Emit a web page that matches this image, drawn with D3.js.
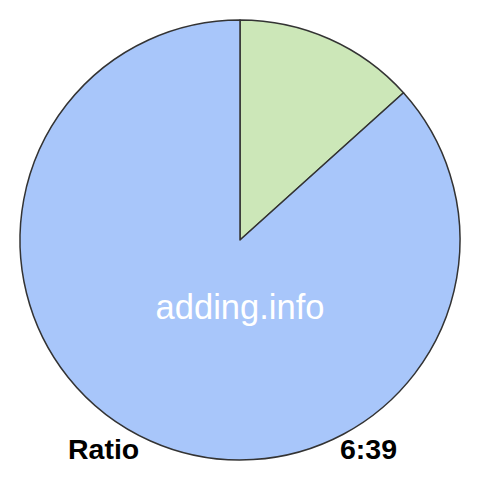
<!DOCTYPE html>
<html>
<head>
<meta charset="utf-8">
<script src="https://cdn.jsdelivr.net/npm/d3@7"></script>
<style>
  body { margin: 0; background: #fff; }
  svg { display: block; }
</style>
</head>
<body>
<svg id="chart"></svg>
<script>
// Ratio 6:39
const labels = ["6", "39"];
const values = [6, 39];
const colors = ["#cce7b8", "#a8c6fa"];

const width = 480, height = 480;
const cx = 240, cy = 240, radius = 220;

const svg = d3.select("#chart")
  .attr("width", width)
  .attr("height", height);

const pie = d3.pie().sort(null).value(d => d);
const arc = d3.arc().innerRadius(0).outerRadius(radius);

const g = svg.append("g")
  .attr("transform", `translate(${cx},${cy})`);

g.selectAll("path")
  .data(pie(values))
  .enter()
  .append("path")
  .attr("d", arc)
  .attr("fill", (d, i) => colors[i])
  .attr("stroke", "#333")
  .attr("stroke-width", 1.5)
  .attr("stroke-linejoin", "round");

// watermark
svg.append("text")
  .attr("x", cx)
  .attr("y", 319)
  .attr("text-anchor", "middle")
  .attr("fill", "#fff")
  .style("font-family", "Liberation Sans, Arial, sans-serif")
  .style("font-size", "34.5px")
  .text("adding.info");

// bottom labels
svg.append("text")
  .attr("x", 68)
  .attr("y", 459)
  .style("font-family", "Liberation Sans, Arial, sans-serif")
  .style("font-weight", "bold")
  .style("font-size", "28.5px")
  .attr("fill", "#000")
  .text("Ratio");

svg.append("text")
  .attr("x", 397)
  .attr("y", 459)
  .attr("text-anchor", "end")
  .style("font-family", "Liberation Sans, Arial, sans-serif")
  .style("font-weight", "bold")
  .style("font-size", "28.5px")
  .attr("fill", "#000")
  .text(labels.join(":"));
</script>
</body>
</html>
